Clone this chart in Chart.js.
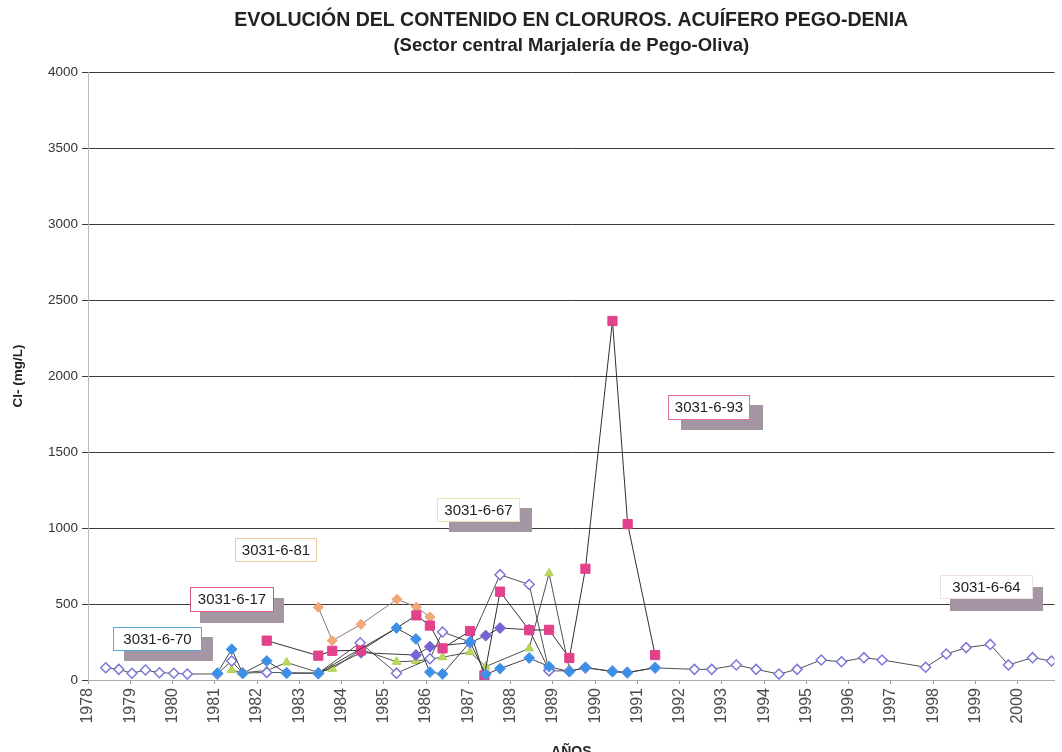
<!DOCTYPE html>
<html><head><meta charset="utf-8">
<script src="https://cdn.jsdelivr.net/npm/chart.js@4/dist/chart.umd.min.js"></script>
<style>
html,body{margin:0;padding:0;background:#fff;}
#wrap{position:relative;width:1062px;height:752px;overflow:hidden;}
canvas{position:absolute;left:0;top:0;}
.lbl{position:absolute;background:#fff;font:15px "Liberation Sans",Arial,sans-serif;color:#222;text-align:center;line-height:22px;box-sizing:border-box;white-space:nowrap;}
</style></head><body>
<div id="wrap"><canvas id="c" width="1062" height="752"></canvas>
<div class="lbl" style="left:113px;top:627px;width:89px;height:24px;border:1px solid #5aa8d8;box-shadow:11px 10px 0 #a596a4">3031-6-70</div>
<div class="lbl" style="left:190px;top:587px;width:84px;height:25px;border:1px solid #d05a80;box-shadow:10px 11px 0 #a596a4">3031-6-17</div>
<div class="lbl" style="left:235px;top:538px;width:82px;height:24px;border:1px solid #f0c8a0;">3031-6-81</div>
<div class="lbl" style="left:437px;top:498px;width:83px;height:24px;border:1px solid #e8e4b0;box-shadow:12px 10px 0 #a596a4">3031-6-67</div>
<div class="lbl" style="left:668px;top:395px;width:82px;height:25px;border:1px solid #e070a0;box-shadow:13px 10px 0 #a596a4">3031-6-93</div>
<div class="lbl" style="left:940px;top:575px;width:93px;height:24px;border:1px solid #f0e0e0;box-shadow:10px 12px 0 #a596a4">3031-6-64</div>
</div>
<script>
const titleText = 'EVOLUCIÓN DEL CONTENIDO EN CLORUROS. ACUÍFERO PEGO-DENIA';
const subtitleText = '(Sector central Marjalería de Pego-Oliva)';
const xTitle = 'AÑOS';
const yTitle = 'Cl- (mg/L)';
const yTicks = [0, 500, 1000, 1500, 2000, 2500, 3000, 3500, 4000];

// 3031-6-64 (open diamonds)
const years64 = [1978.42,1978.73,1979.04,1979.36,1979.69,1980.03,1980.35,1981.06,1981.40,1981.66,1982.23,1982.70,1983.45,1984.44,1985.30,1986.09,1986.39,1987.04,1987.75,1988.44,1988.91,1989.39,1989.77,1990.41,1990.76,1991.42,1992.35,1992.76,1993.34,1993.81,1994.35,1994.78,1995.35,1995.83,1996.36,1996.79,1997.82,1998.31,1998.78,1999.35,1999.78,2000.35,2000.80];
const cl64 = [81,70,44,66,48,44,39,40,125,45,50,48,45,245,45,140,316,250,693,628,60,60,80,58,50,80,70,70,99,70,39,70,132,120,147,132,84,171,213,234,99,147,125];

// 3031-6-70 (sky blue diamonds)
const years70 = [1981.06,1981.40,1981.66,1982.23,1982.70,1983.45,1985.30,1985.76,1986.09,1986.39,1987.04,1987.41,1987.75,1988.44,1988.91,1989.39,1989.77,1990.41,1990.76,1991.42];
const cl70 = [45,202,44,125,44,45,342,270,52,40,250,37,75,145,88,55,83,55,48,81];

// 3031-6-17 (violet diamonds)
const years17 = [1983.45,1984.46,1985.76,1986.09,1987.04,1987.41,1987.75,1988.44,1988.91];
const cl17 = [42,180,164,219,245,292,342,331,66];

// 3031-6-93 (magenta squares)
const years93 = [1982.23,1983.45,1983.78,1984.46,1985.77,1986.09,1986.39,1987.04,1987.38,1987.75,1988.44,1988.91,1989.39,1989.77,1990.41,1990.77,1991.42];
const cl93 = [259,160,192,195,425,358,208,322,30,581,328,330,145,732,2362,1026,164];

// 3031-6-81 (orange diamonds)
const years81 = [1983.45,1983.78,1984.46,1985.31,1985.77,1986.09];
const cl81 = [478,259,366,531,480,415];

// 3031-6-67 (yellow-green triangles)
const years67 = [1981.40,1981.66,1982.23,1982.70,1983.45,1983.78,1984.46,1985.30,1985.76,1986.39,1987.04,1987.41,1988.44,1988.91,1989.39];
const cl67 = [66,48,62,115,50,74,200,120,125,150,183,88,208,702,70];

const fam = '"Liberation Sans", Arial, sans-serif';

function ds(label, xs, ys, o) {
  return {
    label: label,
    data: xs.map((x, i) => ({x: x, y: ys[i]})),
    showLine: true,
    tension: 0,
    borderColor: o.line,
    borderWidth: 1,
    pointStyle: o.style,
    pointRadius: o.r,
    pointBackgroundColor: o.fill,
    pointBorderColor: o.stroke,
    pointBorderWidth: o.bw || 1,
    order: o.order
  };
}

new Chart(document.getElementById('c'), {
  type: 'line',
  data: {
    datasets: [
      ds('3031-6-81', years81, cl81, {line:'#8a7c72', style:'rectRot', r:5, fill:'#f4a878', stroke:'#f0a070', order:6}),
      ds('3031-6-67', years67, cl67, {line:'#505050', style:'triangle', r:5, fill:'#b8d860', stroke:'#b0d050', order:5}),
      ds('3031-6-17', years17, cl17, {line:'#404040', style:'rectRot', r:5.5, fill:'#7466d2', stroke:'#7466d2', order:4}),
      ds('3031-6-64', years64, cl64, {line:'#505050', style:'rectRot', r:5, fill:'#ffffff', stroke:'#7c78d8', bw:1.5, order:3}),
      ds('3031-6-93', years93, cl93, {line:'#303030', style:'rect', r:6.5, fill:'#e2418c', stroke:'#e2418c', order:2}),
      ds('3031-6-70', years70, cl70, {line:'#404040', style:'rectRot', r:5.5, fill:'#3d8fe6', stroke:'#4a9cf0', order:1})
    ]
  },
  options: {
    responsive: false,
    animation: false,
    devicePixelRatio: 1,
    layout: {padding: 0},
    plugins: {
      legend: {display: false},
      tooltip: {enabled: false},
      title: {display: true, fullSize: false, text: titleText, color: '#222', font: {family: fam, size: 19.5, weight: 'bold'}, padding: {top: 9, bottom: 2}},
      subtitle: {display: true, fullSize: false, text: subtitleText, color: '#222', font: {family: fam, size: 18.5, weight: 'bold'}, padding: {top: 0, bottom: 15.4}}
    },
    scales: {
      x: {
        type: 'linear', min: 1978, max: 2000.87,
        ticks: {stepSize: 1, includeBounds: false, autoSkip: false, maxRotation: 90, minRotation: 90, padding: 4,
                font: {family: fam, size: 16}, color: '#4a4a4a', callback: v => String(v)},
        grid: {drawOnChartArea: false, drawTicks: true, tickLength: 4, color: '#999'},
        border: {color: '#aaa'},
        title: {display: true, text: xTitle, color: '#222', font: {family: fam, size: 14, weight: 'bold'}, padding: {top: 0, bottom: -9}},
        afterFit: s => { s.height = 72; }
      },
      y: {
        min: 0, max: 4000,
        afterBuildTicks: s => { s.ticks = yTicks.map(v => ({value: v})); },
        ticks: {padding: 4, font: {family: fam, size: 13.5}, color: '#333', callback: v => String(v)},
        grid: {color: '#3c3c3c', tickLength: 6},
        border: {color: '#bbb'},
        title: {display: true, text: yTitle, color: '#222', font: {family: fam, size: 13.5, weight: 'bold'}, padding: {top: 10, bottom: 0}},
        afterFit: s => { s.width = 88; }
      }
    }
  }
});
</script>
</body></html>
